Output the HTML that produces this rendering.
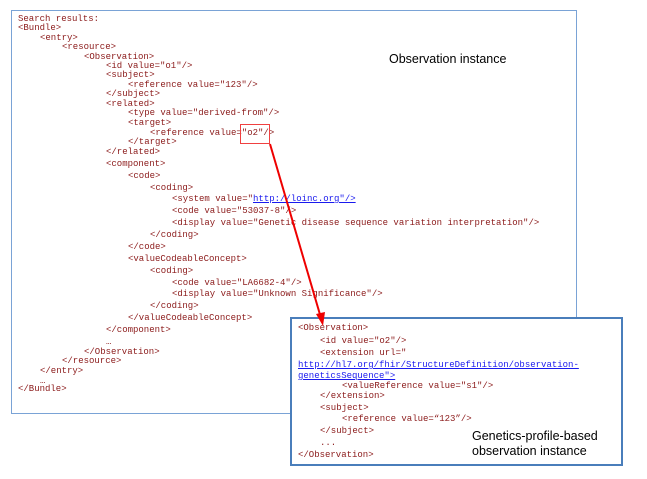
<!DOCTYPE html>
<html><head><style>
body{margin:0;width:647px;height:479px;background:#fff;position:relative;overflow:hidden}
.m{position:absolute;font-family:"Liberation Mono",monospace;font-size:9px;color:#8b1a1a;white-space:pre;line-height:10px}
.m a{color:#1a1aee;text-decoration:underline}
.s{position:absolute;font-family:"Liberation Sans",sans-serif;font-size:12.5px;color:#000;white-space:pre;line-height:15px}
</style></head><body>
<div style="position:absolute;left:11px;top:10px;width:564px;height:402px;border:1px solid #7aa3d6"></div>
<div class="m" style="left:18px;top:14px">Search results:</div>
<div class="m" style="left:18px;top:23px">&lt;Bundle&gt;</div>
<div class="m" style="left:40px;top:33px">&lt;entry&gt;</div>
<div class="m" style="left:62px;top:42px">&lt;resource&gt;</div>
<div class="m" style="left:84px;top:52px">&lt;Observation&gt;</div>
<div class="m" style="left:106px;top:61px">&lt;id value="o1"/&gt;</div>
<div class="m" style="left:106px;top:70px">&lt;subject&gt;</div>
<div class="m" style="left:128px;top:80px">&lt;reference value="123"/&gt;</div>
<div class="m" style="left:106px;top:89px">&lt;/subject&gt;</div>
<div class="m" style="left:106px;top:99px">&lt;related&gt;</div>
<div class="m" style="left:128px;top:108px">&lt;type value="derived-from"/&gt;</div>
<div class="m" style="left:128px;top:118px">&lt;target&gt;</div>
<div class="m" style="left:150px;top:128px">&lt;reference value="o2"/&gt;</div>
<div class="m" style="left:128px;top:137px">&lt;/target&gt;</div>
<div class="m" style="left:106px;top:147px">&lt;/related&gt;</div>
<div class="m" style="left:106px;top:159px">&lt;component&gt;</div>
<div class="m" style="left:128px;top:171px">&lt;code&gt;</div>
<div class="m" style="left:150px;top:183px">&lt;coding&gt;</div>
<div class="m" style="left:172px;top:194px">&lt;system value="<a>http://loinc.org"/&gt;</a></div>
<div class="m" style="left:172px;top:206px">&lt;code value="53037-8"/&gt;</div>
<div class="m" style="left:172px;top:218px">&lt;display value="Genetic disease sequence variation interpretation"/&gt;</div>
<div class="m" style="left:150px;top:230px">&lt;/coding&gt;</div>
<div class="m" style="left:128px;top:242px">&lt;/code&gt;</div>
<div class="m" style="left:128px;top:254px">&lt;valueCodeableConcept&gt;</div>
<div class="m" style="left:150px;top:266px">&lt;coding&gt;</div>
<div class="m" style="left:172px;top:278px">&lt;code value="LA6682-4"/&gt;</div>
<div class="m" style="left:172px;top:289px">&lt;display value="Unknown Significance"/&gt;</div>
<div class="m" style="left:150px;top:301px">&lt;/coding&gt;</div>
<div class="m" style="left:128px;top:313px">&lt;/valueCodeableConcept&gt;</div>
<div class="m" style="left:106px;top:325px">&lt;/component&gt;</div>
<div class="m" style="left:106px;top:337px">…</div>
<div class="m" style="left:84px;top:347px">&lt;/Observation&gt;</div>
<div class="m" style="left:62px;top:356px">&lt;/resource&gt;</div>
<div class="m" style="left:40px;top:366px">&lt;/entry&gt;</div>
<div class="m" style="left:40px;top:376px">…</div>
<div class="m" style="left:18px;top:384px">&lt;/Bundle&gt;</div>
<div class="s" style="left:389px;top:52px">Observation instance</div>

<div style="position:absolute;left:290px;top:317px;width:329px;height:145px;border:2px solid #4a7ebb;background:#fff"></div>
<div class="m" style="left:298px;top:323px">&lt;Observation&gt;</div>
<div class="m" style="left:320px;top:336px">&lt;id value="o2"/&gt;</div>
<div class="m" style="left:320px;top:348px">&lt;extension url="</div>
<div class="m" style="left:298px;top:360px"><a>http://hl7.org/fhir/StructureDefinition/observation-</a></div>
<div class="m" style="left:298px;top:371px"><a>geneticsSequence"&gt;</a></div>
<div class="m" style="left:342px;top:381px">&lt;valueReference value="s1"/&gt;</div>
<div class="m" style="left:320px;top:391px">&lt;/extension&gt;</div>
<div class="m" style="left:320px;top:403px">&lt;subject&gt;</div>
<div class="m" style="left:342px;top:414px">&lt;reference value=“123”/&gt;</div>
<div class="m" style="left:320px;top:426px">&lt;/subject&gt;</div>
<div class="m" style="left:320px;top:438px">...</div>
<div class="m" style="left:298px;top:450px">&lt;/Observation&gt;</div>
<div class="s" style="left:472px;top:429px">Genetics-profile-based<br>observation instance</div>

<svg style="position:absolute;left:0;top:0" width="647" height="479">
<rect x="240.5" y="124.5" width="29" height="19" fill="none" stroke="#f04040" stroke-width="1"/>
<line x1="270" y1="144" x2="321" y2="318" stroke="#ee0000" stroke-width="2"/>
<polygon points="323,326 316,314 325,312" fill="#ee0000"/>
</svg>
</body></html>
